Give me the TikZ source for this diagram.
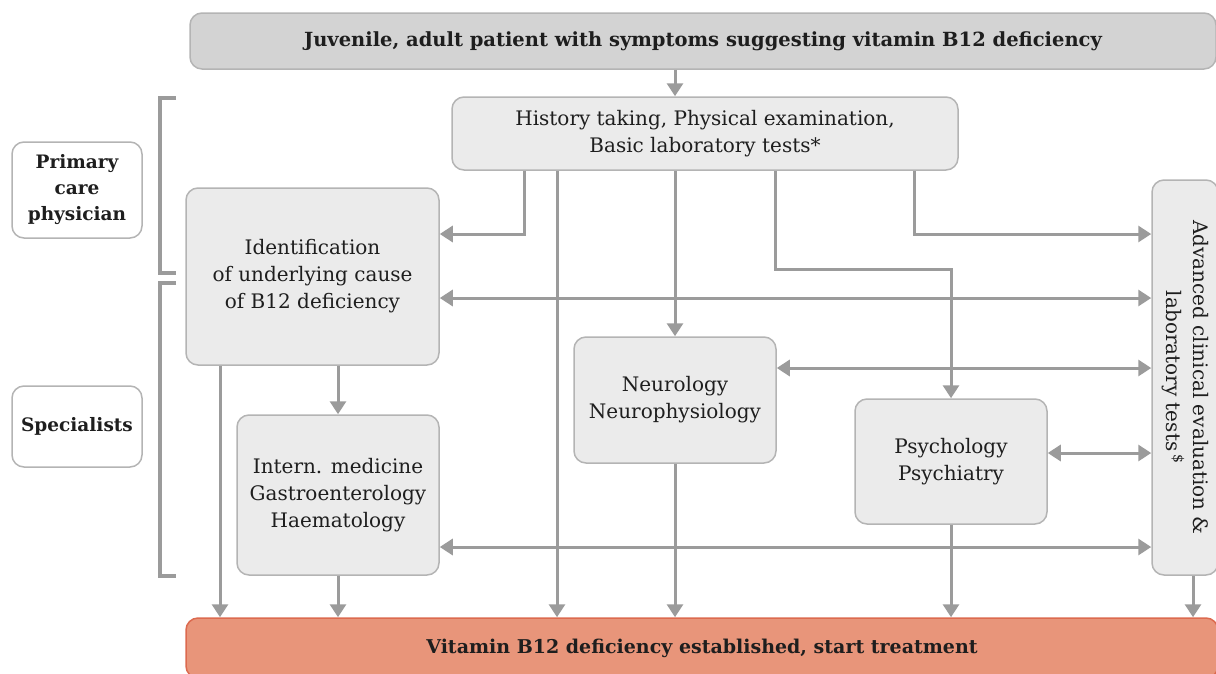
\documentclass[tikz,border=0pt]{standalone}
\usepackage{fontspec}
\setmainfont{DejaVu Serif}
\usepackage{xcolor}
\definecolor{flowLine}{HTML}{9B9B9B}
\definecolor{flowTop}{HTML}{D3D3D3}
\definecolor{flowBox}{HTML}{EBEBEB}
\definecolor{flowEdge}{HTML}{B4B4B4}
\definecolor{flowEnd}{HTML}{E8957A}
\definecolor{flowEndEdge}{HTML}{DC6A4F}
\definecolor{flowText}{HTML}{1E1E1E}
\usetikzlibrary{arrows.meta}

\tikzset{
  box/.style={rounded corners=12pt, draw=flowEdge, line width=1.5pt, fill=flowBox, align=center,
    text=flowText, font=\fontsize{20}{27}\selectfont, inner sep=0pt},
  side/.style={box, fill=white, font=\bfseries\fontsize{18.5}{26}\selectfont},
  arr/.style={draw=flowLine, line width=3pt, -{Triangle[width=16pt,length=13pt]}},
  darr/.style={arr, {Triangle[width=16pt,length=13pt]}-{Triangle[width=16pt,length=13pt]}},
  brk/.style={draw=flowLine, line width=4pt},
}

\begin{document}
\begin{tikzpicture}[x=1pt, y=1pt]
  \useasboundingbox (0,0) rectangle (1216,-673);
  \node[box, fill=flowTop, font=\bfseries\fontsize{19.5}{27}\selectfont, minimum width=1026pt, minimum height=56pt] (top) at (703,-41) {Juvenile, adult patient with symptoms suggesting vitamin B12 deficiency};
  \node[box, minimum width=506pt, minimum height=73pt] (hist) at (705,-133.5) {History taking, Physical examination,\\Basic laboratory tests*};
  \node[side, minimum width=130pt, minimum height=96pt] (pcp) at (77,-190) {Primary\\care\\physician};
  \node[side, minimum width=130pt, minimum height=81pt] (spec) at (77,-426.5) {Specialists};
  \node[box, minimum width=253pt, minimum height=177pt] (ident) at (312.5,-276.5) {Identification\\of underlying cause\\of B12 deficiency};
  \node[box, minimum width=202pt, minimum height=160pt] (intern) at (338,-495) {Intern. medicine\\Gastroenterology\\Haematology};
  \node[box, minimum width=202pt, minimum height=126pt] (neuro) at (675,-400) {Neurology\\Neurophysiology};
  \node[box, minimum width=192pt, minimum height=125pt] (psych) at (951,-461.5) {Psychology\\Psychiatry};
  \node[box, minimum width=66pt, minimum height=395pt] (adv) at (1185,-377.5) {\rotatebox{-90}{\begin{tabular}{@{}c@{}}Advanced clinical evaluation \&\\laboratory tests\,\textsuperscript{\$}\end{tabular}}};
  \node[box, fill=flowEnd, draw=flowEndEdge, font=\bfseries\fontsize{19}{27}\selectfont, minimum width=1032pt, minimum height=60pt] (treat) at (702,-648) {Vitamin B12 deficiency established, start treatment};

  % bend points and columns
  \coordinate (k1) at (524,-234);
  \coordinate (k2) at (775,-269);
  \coordinate (k3) at (914,-234);
  \coordinate (k4) at (557,-298);
  \coordinate (k5) at (220,-368);
  \coordinate (k6) at (0,-453);
  \coordinate (k7) at (0,-547);
  \coordinate (k8) at (1193,0);

  % brackets
  \draw[brk] (176,-98) -- (160,-98) -- (160,-273) -- (176,-273);
  \draw[brk] (176,-283) -- (160,-283) -- (160,-576) -- (176,-576);

  \draw[arr] (top.south -| neuro) -- (hist.north -| neuro);
  \draw[arr] (hist.south -| k1) |- (ident.east |- k1);
  \draw[arr] (hist.south -| k4) -- (treat.north -| k4);
  \draw[arr] (hist.south -| neuro) -- (neuro.north);
  \draw[arr] (hist.south -| k2) |- (k2 -| psych) -- (psych.north);
  \draw[arr] (hist.south -| k3) |- (adv.west |- k3);
  \draw[darr] (ident.east |- k4) -- (adv.west |- k4);
  \draw[arr] (ident.south -| k5) -- (treat.north -| k5);
  \draw[arr] (ident.south -| intern) -- (intern.north);
  \draw[darr] (neuro.east |- k5) -- (adv.west |- k5);
  \draw[darr] (psych.east |- k6) -- (adv.west |- k6);
  \draw[darr] (intern.east |- k7) -- (adv.west |- k7);
  \draw[arr] (intern.south) -- (treat.north -| intern);
  \draw[arr] (neuro.south) -- (treat.north -| neuro);
  \draw[arr] (psych.south) -- (treat.north -| psych);
  \draw[arr] (adv.south -| k8) -- (treat.north -| k8);
\end{tikzpicture}
\end{document}
